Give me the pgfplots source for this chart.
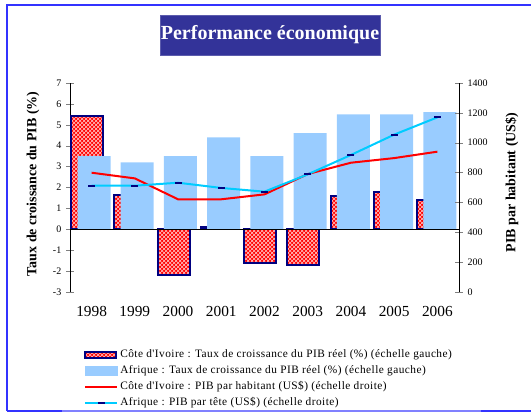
\documentclass[border=0pt]{standalone}
\usepackage{pgfplots}
\pgfplotsset{compat=1.18}
\usepackage{fontspec}
\setmainfont{Liberation Serif}
\newfontfamily\legfont[LetterSpace=4]{Liberation Serif}
\usetikzlibrary{patterns}
\definecolor{titlebg}{HTML}{333399}
\definecolor{lightblue}{HTML}{99CCFF}
\definecolor{navyb}{HTML}{000080}
\definecolor{cyanl}{HTML}{00CCFF}
\definecolor{frameblue}{HTML}{3333FF}
\definecolor{framelight}{HTML}{8080FF}
\begin{document}
\begin{tikzpicture}[x=0.75pt,y=0.75pt]
\useasboundingbox (0,0) rectangle (531,413);
% frame
\draw[frameblue, line width=1.5pt] (7,2) -- (7,408) -- (540,408);
\draw[frameblue, line width=1.5pt] (7,2) -- (62,2);
\draw[framelight, line width=1.5pt] (62,2) -- (481,2);
\draw[frameblue, line width=1.5pt] (481,2) -- (540,2);
% title
\node[fill=titlebg, draw=titlebg!80!white, line width=0.6pt, minimum width=165pt, minimum height=30pt, inner sep=0pt, text=white, font=\bfseries\fontsize{15}{18}\selectfont] at (270,378) {Performance économique};

\begin{axis}[
  at={(52.5pt,90.75pt)}, anchor=south west,
  scale only axis, width=291.75pt, height=156.75pt,
  xmin=-0.5, xmax=8.5, ymin=-3, ymax=7,
  axis y line*=left, axis x line*=bottom,
  x axis line style={draw=none},
  xtick={0,...,8},
  xticklabels={1998,1999,2000,2001,2002,2003,2004,2005,2006},
  xtick style={draw=none},
  x tick label style={font=\fontsize{11.5}{13}\selectfont, yshift=-4.5pt},
  ytick={-3,-2,...,7},
  y tick label style={font=\fontsize{7.5}{9}\selectfont},
  /pgf/number format/assume math mode=true,
  tick align=center, major tick length=6pt,
  ylabel={Taux de croissance du PIB (\%)},
  ylabel style={font=\bfseries\fontsize{10.5}{12}\selectfont, at={(axis description cs:-0.095,0.517)}, anchor=center},
  clip=false,
]
\addplot[ybar, bar width=24pt, bar shift=-3.3pt, fill=red, draw=navyb, line width=1.5pt,
  postaction={pattern=crosshatch, pattern color=white!80!red}]
  coordinates {(0,5.44) (1,1.63) (2,-2.2) (3,0.12) (4,-1.6) (5,-1.7) (6,1.6) (7,1.8) (8,1.4)};
\addplot[ybar, bar width=24.75pt, bar shift=1.8pt, fill=lightblue, draw=none]
  coordinates {(0,3.5) (1,3.2) (2,3.5) (3,4.4) (4,3.5) (5,4.6) (6,5.5) (7,5.5) (8,5.6)};
\draw[black, line width=0.7pt] (axis cs:-0.5,0) -- (axis cs:8.5,0);
\end{axis}

\begin{axis}[
  at={(52.5pt,90.75pt)}, anchor=south west,
  scale only axis, width=291.75pt, height=156.75pt,
  xmin=-0.5, xmax=8.5, ymin=0, ymax=1400,
  axis y line*=right, axis x line=none,
  ytick={0,200,...,1400},
  y tick label style={font=\fontsize{7.5}{9}\selectfont},
  /pgf/number format/assume math mode=true,
  /pgf/number format/1000 sep={},
  tick align=center, major tick length=6pt,
  ylabel={PIB par habitant (US\$)},
  ylabel style={font=\bfseries\fontsize{10.5}{12}\selectfont, at={(axis description cs:1.136,0.524)}, anchor=center},
  clip=false,
  legend cell align=left,
  legend style={at={(axis description cs:0.036,-0.275)}, anchor=north west, draw=none, fill=none,
    inner sep=0pt, font=\legfont\fontsize{8.5}{10}\selectfont, row sep=4pt, column sep=1.5pt,
    nodes={inner sep=0pt, text height=6pt, text depth=2pt}},
]
\addlegendimage{legend image code/.code={\draw[fill=red, draw=navyb, line width=1.5pt, postaction={pattern=crosshatch, pattern color=white!80!red}] (0pt,-2.5pt) rectangle (23pt,2.5pt);}}
\addlegendentry{Côte d'Ivoire : Taux de croissance du PIB réel (\%) (échelle gauche)}
\addlegendimage{legend image code/.code={\fill[lightblue] (0pt,-3.5pt) rectangle (24pt,3.5pt);}}
\addlegendentry{Afrique : Taux de croissance du PIB réel (\%) (échelle gauche)}
\addlegendimage{legend image code/.code={\draw[red, line width=1.5pt] (0pt,0pt) -- (24pt,0pt);}}
\addlegendentry{Côte d'Ivoire : PIB par habitant (US\$) (échelle droite)}
\addlegendimage{legend image code/.code={\draw[cyanl, line width=1.5pt] (0pt,0pt) -- (24pt,0pt); \draw[navyb, line width=1.5pt] (9.5pt,0pt) -- (14.5pt,0pt);}}
\addlegendentry{Afrique : PIB par tête (US\$) (échelle droite)}
\addplot[red, line width=1.5pt, mark=none, forget plot]
  coordinates {(0,799) (1,761) (2,621) (3,621) (4,654) (5,790) (6,866) (7,897) (8,940)};
\addplot[cyanl, line width=1.5pt, mark=-, mark size=2.6pt, mark options={draw=navyb, line width=1.5pt}, forget plot]
  coordinates {(0,712) (1,712) (2,732) (3,697) (4,672) (5,788) (6,918) (7,1054) (8,1170)};
\end{axis}
\end{tikzpicture}
\end{document}
